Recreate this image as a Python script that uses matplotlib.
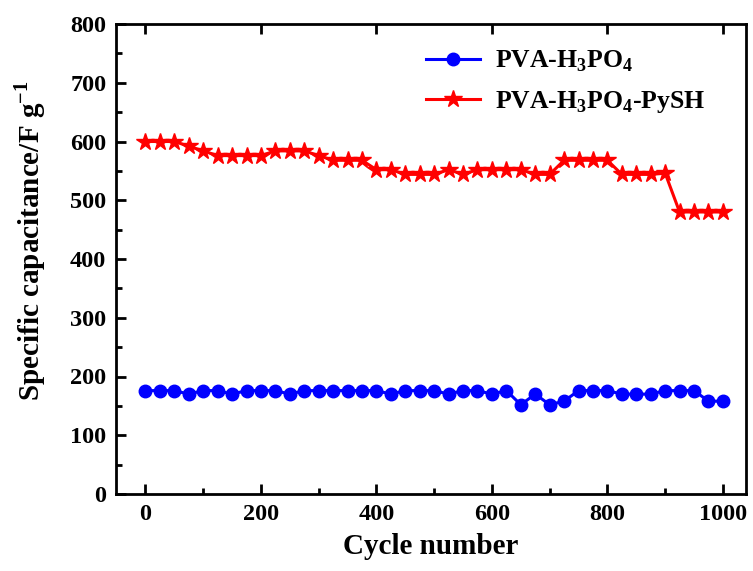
import matplotlib
matplotlib.use("Agg")
import matplotlib.pyplot as plt
from matplotlib.ticker import MultipleLocator

plt.rcParams['font.family'] = 'Liberation Serif'
plt.rcParams['font.weight'] = 'bold'
plt.rcParams['mathtext.fontset'] = 'custom'
plt.rcParams['mathtext.rm'] = 'Liberation Serif:bold'
plt.rcParams['mathtext.bf'] = 'Liberation Serif:bold'

cycles = list(range(0, 1001, 25))
pva = [176, 176, 176, 170, 176, 176, 170, 176, 176, 176, 170, 176, 176, 176,
       176, 176, 176, 170, 176, 176, 176, 170, 176, 176, 170, 176, 152, 170,
       152, 158, 176, 176, 176, 170, 170, 170, 176, 176, 176, 158, 158]
pva_pysh = [600, 600, 600, 592, 584, 576, 576, 576, 576, 584, 584, 584, 576, 568,
            568, 568, 552, 552, 544, 544, 544, 552, 544, 552, 552, 552, 552, 544,
            544, 568, 568, 568, 568, 544, 544, 544, 546, 480, 480, 480, 480]

fig = plt.figure(figsize=(7.53, 5.71), dpi=100)
ax = fig.add_axes([116/753, 1-494/571, (746-116)/753, (494-24)/571])

ax.plot(cycles, pva, color='blue', marker='o', markersize=9, linewidth=2.2,
        label=r'PVA-H$_3$PO$_4$')
ax.plot(cycles, pva_pysh, color='red', marker='*', markersize=13, linewidth=2.2,
        label=r'PVA-H$_3$PO$_4$-PySH')

ax.set_xlim(-51, 1040)
ax.set_ylim(0, 800)
ax.xaxis.set_major_locator(MultipleLocator(200))
ax.xaxis.set_minor_locator(MultipleLocator(100))
ax.yaxis.set_major_locator(MultipleLocator(100))
ax.yaxis.set_minor_locator(MultipleLocator(50))
ax.tick_params(which='both', direction='in', width=2, labelsize=17.5)
ax.tick_params(which='major', length=7, pad=7)
ax.tick_params(which='minor', length=4)
ax.tick_params(axis='x', which='major', top=True)
for s in ax.spines.values():
    s.set_linewidth(2)

ax.set_xlabel('Cycle number', fontsize=21, fontweight='bold', labelpad=6)
ax.set_ylabel(r'Specific capacitance/F g$^{-1}$', fontsize=21, fontweight='bold')
ax.yaxis.set_label_coords(-0.108, 0.54)

ax.legend(loc='upper left', bbox_to_anchor=(0.455, 0.997), frameon=False, fontsize=18.5,
          handlelength=2.1, handletextpad=0.6, labelspacing=0.6)

fig.savefig('out.png', dpi=100)
